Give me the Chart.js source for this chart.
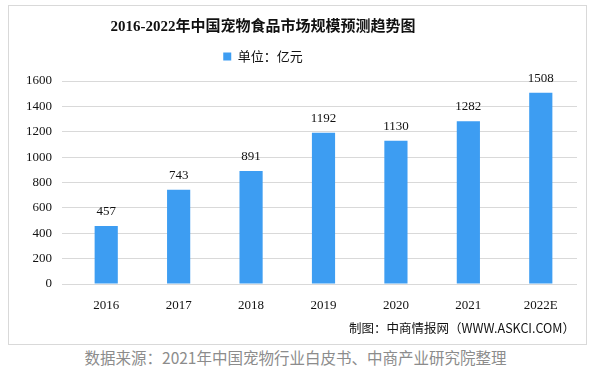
<!DOCTYPE html>
<html>
<head>
<meta charset="utf-8">
<script src="https://cdn.jsdelivr.net/npm/chart.js@4.4.1/dist/chart.umd.min.js"></script>
<style>
  body { margin: 0; background: #fff; width: 591px; height: 373px; overflow: hidden; position: relative; }
  #frame { position: absolute; left: 8px; top: 5px; width: 579px; height: 340px; box-sizing: border-box; border: 1px solid #d9d9d9; }
  #chart { position: absolute; left: -51px; top: 6px; }
  #maker { position: absolute; right: 16px; top: 318px; font: 12.5px "Noto Sans CJK SC", sans-serif; color: #111; white-space: nowrap; }
  #source { position: absolute; left: 0; width: 591px; top: 346px; text-align: center; font: 15.5px "Noto Sans CJK SC", sans-serif; color: #8c8c8c; white-space: nowrap; }
</style>
</head>
<body>
<div id="frame"></div>
<canvas id="chart" width="628" height="338"></canvas>
<div id="maker">制图：中商情报网（WWW.ASKCI.COM）</div>
<div id="source">数据来源：2021年中国宠物行业白皮书、中商产业研究院整理</div>
<script>
const years = ['2016', '2017', '2018', '2019', '2020', '2021', '2022E'];
const marketSize = [457, 743, 891, 1192, 1130, 1282, 1508];
const yTicks = [0, 200, 400, 600, 800, 1000, 1200, 1400, 1600];

const serif = '"Liberation Serif", "Noto Sans CJK SC", serif';

// push the plot down below the legend
const legendGap = {
  id: 'legendGap',
  beforeInit(chart) {
    const fit = chart.legend.fit;
    chart.legend.fit = function() {
      fit.bind(chart.legend)();
      this.height += 8;
    };
  }
};

// value labels on top of bars
const barLabels = {
  id: 'barLabels',
  afterDatasetsDraw(chart) {
    const ctx = chart.ctx;
    const meta = chart.getDatasetMeta(0);
    ctx.save();
    ctx.font = '13px ' + serif;
    ctx.fillStyle = '#111';
    ctx.textAlign = 'center';
    ctx.textBaseline = 'bottom';
    meta.data.forEach((bar, i) => {
      ctx.fillText(marketSize[i], bar.x, bar.y - 8);
    });
    ctx.restore();
  }
};

new Chart(document.getElementById('chart'), {
  type: 'bar',
  data: {
    labels: years,
    datasets: [{
      label: '单位：亿元',
      data: marketSize,
      backgroundColor: '#3d9df2',
      categoryPercentage: 1,
      barPercentage: 0.32
    }]
  },
  options: {
    responsive: false,
    animation: false,
    layout: { padding: 0 },
    plugins: {
      title: {
        display: true,
        text: '2016-2022年中国宠物食品市场规模预测趋势图',
        color: '#111',
        font: { family: serif, size: 15, weight: 'bold' },
        padding: { top: 12, bottom: 11 }
      },
      legend: {
        labels: {
          boxWidth: 8,
          boxHeight: 8,
          padding: 3,
          color: '#111',
          font: { family: '"Noto Sans CJK SC", sans-serif', size: 13 }
        }
      },
      tooltip: { enabled: false }
    },
    scales: {
      x: {
        grid: { display: false },
        border: { color: '#d9d9d9' },
        ticks: { color: '#111', font: { family: serif, size: 13 }, padding: 6 },
        afterFit(scale) { scale.height = 60; }
      },
      y: {
        min: 0,
        max: 1600,
        afterBuildTicks(scale) { scale.ticks = yTicks.map(v => ({ value: v })); },
        grid: { color: '#d9d9d9' },
        border: { display: false },
        ticks: { color: '#111', font: { family: serif, size: 13 }, padding: 10, callback: v => String(v) },
        afterFit(scale) { scale.width = 121; }
      }
    }
  },
  plugins: [legendGap, barLabels]
});
</script>
</body>
</html>
